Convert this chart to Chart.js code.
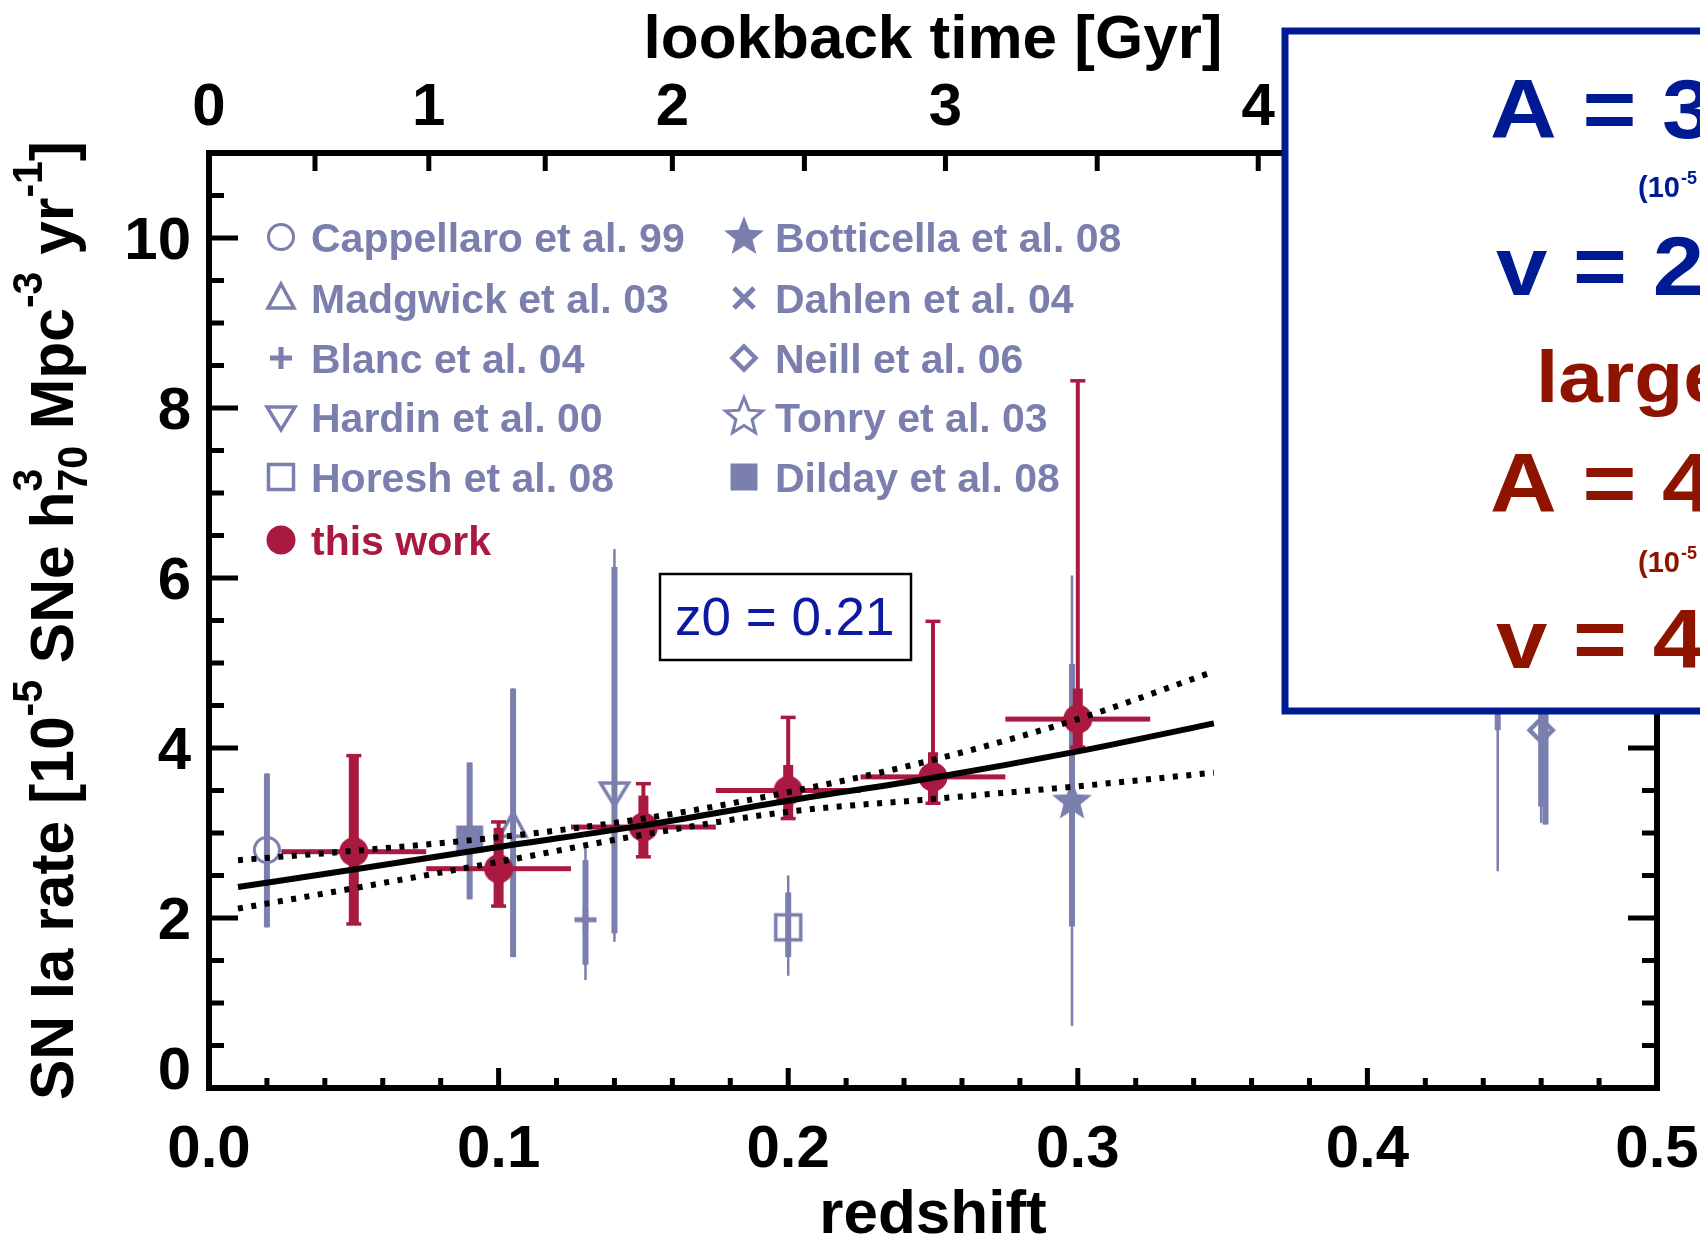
<!DOCTYPE html>
<html>
<head>
<meta charset="utf-8">
<script src="https://cdn.jsdelivr.net/npm/chart.js@4.4.1/dist/chart.umd.min.js"></script>
<style>
  html, body { margin: 0; padding: 0; background: #fff; }
  #wrap { width: 1700px; height: 1239px; }
</style>
</head>
<body>
<div id="wrap"><canvas id="chart" width="1700" height="1239"></canvas></div>
<script>
// ---- values ----
const zTickValues = [0.0, 0.1, 0.2, 0.3, 0.4, 0.5];
const zTickLabels = ['0.0', '0.1', '0.2', '0.3', '0.4', '0.5'];
const rateTickValues = [0, 2, 4, 6, 8, 10];
const rateTickLabels = ['0', '2', '4', '6', '8', '10'];
const lookbackLabels = ['0', '1', '2', '3', '4'];
const lookbackZ = [0.0, 0.0759, 0.1600, 0.2543, 0.3623];     // redshift of 0,1,2,3,4 Gyr
const lookbackMinorZ = [0.0366, 0.1161, 0.2056, 0.3067];    // 0.5,1.5,2.5,3.5 Gyr

// this work
const thisWorkZ = [0.05, 0.10, 0.15, 0.20, 0.25, 0.30];
const thisWorkRate = [2.78, 2.58, 3.07, 3.50, 3.66, 4.34];
const thisWorkBinLo = [0.025, 0.075, 0.125, 0.175, 0.225, 0.275];
const thisWorkBinHi = [0.075, 0.125, 0.175, 0.225, 0.275, 0.325];
const thisWorkStatLo = [1.93, 2.14, 2.72, 3.17, 3.35, 4.01];
const thisWorkStatHi = [3.91, 3.06, 3.44, 3.80, 3.95, 4.70];
const thisWorkTotLo = [1.93, 2.14, 2.72, 3.17, 3.35, 4.01];
const thisWorkTotHi = [3.91, 3.13, 3.58, 4.36, 5.49, 8.32];

// literature points (one per survey)
const refLabels = ['Cappellaro et al. 99', 'Madgwick et al. 03', 'Blanc et al. 04', 'Hardin et al. 00',
  'Horesh et al. 08', 'Botticella et al. 08', 'Dahlen et al. 04', 'Neill et al. 06', 'Tonry et al. 03', 'Dilday et al. 08'];
const refMarkers = ['circleOpen', 'triangleOpen', 'plus', 'triangleDownOpen', 'squareOpen',
  'starFilled', 'cross', 'diamondOpen', 'starOpen', 'squareFilled'];
const refZ = [0.020, 0.105, 0.130, 0.140, 0.200, 0.298, 0.445, 0.460, 0.4615, 0.090];
const refRate = [2.80, 3.08, 1.98, 3.47, 1.89, 3.37, 6.90, 4.21, 4.80, 2.93];
const refStatLo = [1.89, 1.54, 1.45, 1.82, 1.54, 1.90, 4.21, 3.31, 3.10, 2.22];
const refStatHi = [3.70, 4.70, 2.68, 6.13, 2.30, 4.99, 10.0, 5.00, 6.50, 3.83];
const refTotLo = [1.89, 1.54, 1.27, 1.72, 1.32, 0.73, 2.55, 3.12, 3.10, 2.22];
const refTotHi = [3.70, 4.70, 2.82, 6.34, 2.50, 6.03, 10.8, 5.40, 6.50, 3.83];

// power-law fit and its envelope
const fitZ = [0.010, 0.050, 0.100, 0.150, 0.200, 0.250, 0.300, 0.347];
const fitRate = [2.365, 2.57, 2.835, 3.09, 3.38, 3.65, 3.96, 4.29];
const fitUpper = [2.68, 2.79, 2.95, 3.17, 3.48, 3.86, 4.34, 4.90];
const fitLower = [2.11, 2.35, 2.66, 2.98, 3.25, 3.40, 3.55, 3.71];

const legendCol1 = [0, 1, 2, 3, 4];   // indexes into refLabels, then "this work"
const legendCol2 = [5, 6, 7, 8, 9];

const SLATE = '#7a7fae';
const CRIMSON = '#aa1940';
const BLUE = '#001a94';
const DARKRED = '#8e1400';
const FONT = '"Liberation Sans", Arial, Helvetica, sans-serif';

// ---- marker images ----
function starPath(g, ro, ri) {
  g.beginPath();
  for (let k = 0; k < 10; k++) {
    const a = -Math.PI / 2 + k * Math.PI / 5;
    const r = k % 2 ? ri : ro;
    g.lineTo(Math.cos(a) * r, Math.sin(a) * r);
  }
  g.closePath();
}

function markerCanvas(kind, color) {
  const s = 50;
  const c = document.createElement('canvas');
  c.width = s; c.height = s;
  const g = c.getContext('2d');
  g.translate(s / 2, s / 2);
  g.strokeStyle = color; g.fillStyle = color;
  g.lineJoin = 'miter';
  switch (kind) {
    case 'circleOpen':
      g.lineWidth = 3; g.beginPath(); g.arc(0, 0, 12.5, 0, Math.PI * 2); g.stroke(); break;
    case 'circleFilled':
      g.beginPath(); g.arc(0, 0, 14.5, 0, Math.PI * 2); g.fill(); break;
    case 'triangleOpen':
      g.lineWidth = 3.5; g.beginPath(); g.moveTo(0, -14); g.lineTo(13, 10); g.lineTo(-13, 10); g.closePath(); g.stroke(); break;
    case 'triangleDownOpen':
      g.lineWidth = 3.5; g.beginPath(); g.moveTo(-14, -10); g.lineTo(14, -10); g.lineTo(0, 13); g.closePath(); g.stroke(); break;
    case 'squareOpen':
      g.lineWidth = 3.5; g.strokeRect(-12.5, -12.5, 25, 25); break;
    case 'squareFilled':
      g.fillRect(-13.5, -13.5, 27, 27); break;
    case 'plus':
      g.fillRect(-11, -2.5, 22, 5); g.fillRect(-2.5, -11, 5, 22); break;
    case 'cross':
      g.lineWidth = 5; g.beginPath(); g.moveTo(-10, -10); g.lineTo(10, 10); g.moveTo(10, -10); g.lineTo(-10, 10); g.stroke(); break;
    case 'diamondOpen':
      g.lineWidth = 4.5; g.beginPath(); g.moveTo(0, -11.5); g.lineTo(11.5, 0); g.lineTo(0, 11.5); g.lineTo(-11.5, 0); g.closePath(); g.stroke(); break;
    case 'starFilled':
      starPath(g, 21, 9); g.fill(); break;
    case 'starOpen':
      g.lineWidth = 3; starPath(g, 19.5, 8.5); g.stroke(); break;
  }
  return c;
}

// ---- datasets ----
const datasets = [];
datasets.push({
  type: 'line', label: 'fit', order: 0,
  data: fitZ.map((z, i) => ({ x: z, y: fitRate[i] })),
  borderColor: '#000', borderWidth: 6, pointRadius: 0, cubicInterpolationMode: 'monotone', borderCapStyle: 'butt'
});
datasets.push({
  type: 'line', label: 'fit upper', order: 0,
  data: fitZ.map((z, i) => ({ x: z, y: fitUpper[i] })),
  borderColor: '#000', borderWidth: 6, borderDash: [5, 8.5], pointRadius: 0, cubicInterpolationMode: 'monotone', borderCapStyle: 'butt'
});
datasets.push({
  type: 'line', label: 'fit lower', order: 0,
  data: fitZ.map((z, i) => ({ x: z, y: fitLower[i] })),
  borderColor: '#000', borderWidth: 6, borderDash: [5, 8.5], pointRadius: 0, cubicInterpolationMode: 'monotone', borderCapStyle: 'butt'
});
datasets.push({
  type: 'scatter', label: 'this work', order: 1,
  data: thisWorkZ.map((z, i) => ({ x: z, y: thisWorkRate[i] })),
  pointStyle: markerCanvas('circleFilled', CRIMSON), pointRadius: 14,
  err: { color: CRIMSON, statLo: thisWorkStatLo, statHi: thisWorkStatHi, totLo: thisWorkTotLo, totHi: thisWorkTotHi,
         binLo: thisWorkBinLo, binHi: thisWorkBinHi, thick: 10, thin: 4, caps: true }
});
refLabels.forEach((lab, i) => {
  datasets.push({
    type: 'scatter', label: lab, order: 2,
    data: [{ x: refZ[i], y: refRate[i] }],
    pointStyle: markerCanvas(refMarkers[i], SLATE), pointRadius: 14,
    err: { color: SLATE, statLo: [refStatLo[i]], statHi: [refStatHi[i]], totLo: [refTotLo[i]], totHi: [refTotHi[i]],
           thick: 6, thin: 2.5, caps: false }
  });
});

// ---- drawing helpers ----
function txt(ctx, s, x, y, font, color, align, sx) {
  ctx.save();
  ctx.font = font; ctx.fillStyle = color;
  ctx.textAlign = align || 'left'; ctx.textBaseline = 'alphabetic';
  ctx.translate(x, y); ctx.scale(sx || 1, 1);
  ctx.fillText(s, 0, 0);
  ctx.restore();
}

const yTitleParts = [
  { t: 'SN Ia rate [10' }, { sup: '-5' }, { t: ' SNe h' }, { sup: '3', sub: '70' },
  { t: ' Mpc' }, { sup: '-3' }, { t: ' yr' }, { sup: '-1' }, { t: ']' }
];

function drawRich(ctx, parts, size, targetLen) {
  const big = 'bold ' + size + 'px ' + FONT;
  const small = 'bold ' + Math.round(size * 0.68) + 'px ' + FONT;
  const widths = parts.map(p => {
    if (p.t) { ctx.font = big; return ctx.measureText(p.t).width; }
    ctx.font = small;
    return Math.max(ctx.measureText(p.sup || '').width, ctx.measureText(p.sub || '').width);
  });
  const total = widths.reduce((a, b) => a + b, 0);
  const k = targetLen / total;
  ctx.save();
  ctx.scale(k, 1);
  let x = 0;
  parts.forEach((p, i) => {
    ctx.fillStyle = '#000';
    if (p.t) { ctx.font = big; ctx.fillText(p.t, x, 0); }
    else {
      ctx.font = small;
      if (p.sup) ctx.fillText(p.sup, x, -size * 0.50);
      if (p.sub) ctx.fillText(p.sub, x, size * 0.23);
    }
    x += widths[i];
  });
  ctx.restore();
}

const decor = {
  id: 'decor',
  beforeDatasetDraw(chart, args) {
    const ds = chart.data.datasets[args.index];
    if (!ds.err) return;
    const e = ds.err, xs = chart.scales.x, ys = chart.scales.y, ctx = chart.ctx, a = chart.chartArea;
    ctx.save();
    ctx.beginPath(); ctx.rect(a.left, a.top, a.right - a.left, a.bottom - a.top); ctx.clip();
    ctx.fillStyle = e.color;
    ds.data.forEach((p, i) => {
      const x = xs.getPixelForValue(p.x), y = ys.getPixelForValue(p.y);
      if (e.binLo) {
        const x0 = xs.getPixelForValue(e.binLo[i]), x1 = xs.getPixelForValue(e.binHi[i]);
        ctx.fillRect(x0, y - 2.5, x1 - x0, 5);
      }
      const tHi = ys.getPixelForValue(e.totHi[i]), tLo = ys.getPixelForValue(e.totLo[i]);
      ctx.fillRect(x - e.thin / 2, tHi, e.thin, tLo - tHi);
      const sHi = ys.getPixelForValue(e.statHi[i]), sLo = ys.getPixelForValue(e.statLo[i]);
      ctx.fillRect(x - e.thick / 2, sHi, e.thick, sLo - sHi);
      if (e.caps) {
        ctx.fillRect(x - 7.5, tHi - 1.75, 15, 3.5);
        ctx.fillRect(x - 7.5, tLo - 1.75, 15, 3.5);
      }
    });
    ctx.restore();
  },
  afterDraw(chart) {
    const ctx = chart.ctx, a = chart.chartArea;
    const xs = chart.scales.x, ys = chart.scales.y, xt = chart.scales.xTop;
    ctx.save();
    // frame
    ctx.strokeStyle = '#000'; ctx.lineWidth = 6; ctx.lineJoin = 'miter';
    ctx.strokeRect(a.left, a.top, a.right - a.left, a.bottom - a.top);
    ctx.fillStyle = '#000';
    // bottom ticks (minor from scale ticks, major from tick list)
    xs.ticks.forEach(t => {
      const x = xs.getPixelForValue(t.value);
      const major = zTickValues.some(v => Math.abs(v - t.value) < 1e-6);
      const L = major ? 20 : 10;
      ctx.fillRect(x - 2.5, a.bottom - L, 5, L);
    });
    // left / right ticks
    ys.ticks.forEach(t => {
      const y = ys.getPixelForValue(t.value);
      const major = rateTickValues.some(v => Math.abs(v - t.value) < 1e-6);
      const L = major ? 29 : 15;
      ctx.fillRect(a.left, y - 2.5, L, 5);
      ctx.fillRect(a.right - L, y - 2.5, L, 5);
    });
    // top (lookback time) ticks
    xt.ticks.forEach(t => {
      const x = xt.getPixelForValue(t.value);
      ctx.fillRect(x - 2.5, a.top, 5, 18);
    });
    // tick labels
    const tickFont = 'bold 60px ' + FONT;
    zTickValues.forEach((v, i) => txt(ctx, zTickLabels[i], xs.getPixelForValue(v), 1167, tickFont, '#000', 'center'));
    rateTickValues.forEach((v, i) => {
      let y = ys.getPixelForValue(v) + 21;
      if (y > a.bottom) y = a.bottom + 1;
      txt(ctx, rateTickLabels[i], 191, y, tickFont, '#000', 'right');
    });
    lookbackZ.forEach((z, i) => txt(ctx, lookbackLabels[i], xt.getPixelForValue(z), 125, tickFont, '#000', 'center'));
    // axis titles
    const titleFont = 'bold 62px ' + FONT;
    txt(ctx, 'lookback time [Gyr]', (a.left + a.right) / 2, 58, titleFont, '#000', 'center');
    txt(ctx, 'redshift', (a.left + a.right) / 2, 1233, titleFont, '#000', 'center');
    ctx.save();
    ctx.translate(73, 1100); ctx.rotate(-Math.PI / 2);
    drawRich(ctx, yTitleParts, 62, 959);
    ctx.restore();
    // legend
    const legFont = 'bold 41px ' + FONT;
    const rows = [237, 298, 358, 417, 477, 540];
    legendCol1.forEach((ri, r) => {
      const m = chart.data.datasets[4 + ri].pointStyle;
      ctx.drawImage(m, 281 - m.width / 2, rows[r] - m.height / 2);
      txt(ctx, refLabels[ri], 311, rows[r] + 14.5, legFont, SLATE, 'left');
    });
    const tw = chart.data.datasets[3].pointStyle;
    ctx.drawImage(tw, 281 - tw.width / 2, rows[5] - tw.height / 2);
    txt(ctx, 'this work', 311, rows[5] + 14.5, legFont, CRIMSON, 'left');
    legendCol2.forEach((ri, r) => {
      const m = chart.data.datasets[4 + ri].pointStyle;
      ctx.drawImage(m, 744 - m.width / 2, rows[r] - m.height / 2);
      txt(ctx, refLabels[ri], 775, rows[r] + 14.5, legFont, SLATE, 'left');
    });
    // pivot box
    ctx.fillStyle = '#fff'; ctx.fillRect(660, 574, 251, 86);
    ctx.strokeStyle = '#000'; ctx.lineWidth = 2.5; ctx.strokeRect(660, 574, 251, 86);
    txt(ctx, 'z0 = 0.21', 675, 635, '53px ' + FONT, '#0b1aa0', 'left');
    // fit-parameter box (runs off the right edge)
    ctx.fillStyle = '#fff'; ctx.fillRect(1285, 31, 500, 680);
    ctx.strokeStyle = BLUE; ctx.lineWidth = 7; ctx.strokeRect(1285, 31, 500, 680);
    const bigF = 'bold 84px ' + FONT, smallF = 'bold 29px ' + FONT, supF = 'bold 18px ' + FONT;
    txt(ctx, 'A = 3', 1490, 138, bigF, BLUE, 'left', 1.1);
    txt(ctx, '(10', 1638, 197, smallF, BLUE, 'left');
    txt(ctx, '-5', 1681, 184, supF, BLUE, 'left');
    txt(ctx, 'v = 2', 1496, 295, bigF, BLUE, 'left', 1.1);
    txt(ctx, 'large', 1536, 402, 'bold 73px ' + FONT, DARKRED, 'left', 1.1);
    txt(ctx, 'A = 4', 1490, 512, bigF, DARKRED, 'left', 1.1);
    txt(ctx, '(10', 1638, 572, smallF, DARKRED, 'left');
    txt(ctx, '-5', 1681, 559, supF, DARKRED, 'left');
    txt(ctx, 'v = 4', 1496, 668, bigF, DARKRED, 'left', 1.1);
    ctx.restore();
  }
};

new Chart(document.getElementById('chart'), {
  type: 'scatter',
  data: { datasets: datasets },
  options: {
    responsive: false,
    animation: false,
    devicePixelRatio: 1,
    layout: { padding: { left: 209, right: 43, top: 153, bottom: 151 } },
    plugins: { legend: { display: false }, tooltip: { enabled: false } },
    scales: {
      x: { type: 'linear', min: 0, max: 0.5, display: false, ticks: { stepSize: 0.02 } },
      y: { type: 'linear', min: 0, max: 11, display: false, ticks: { stepSize: 0.5 } },
      xTop: {
        type: 'linear', position: 'top', axis: 'x', min: 0, max: 0.5, display: false,
        afterBuildTicks: s => { s.ticks = lookbackZ.concat(lookbackMinorZ).map(v => ({ value: v })); }
      }
    }
  },
  plugins: [decor]
});
</script>
</body>
</html>
